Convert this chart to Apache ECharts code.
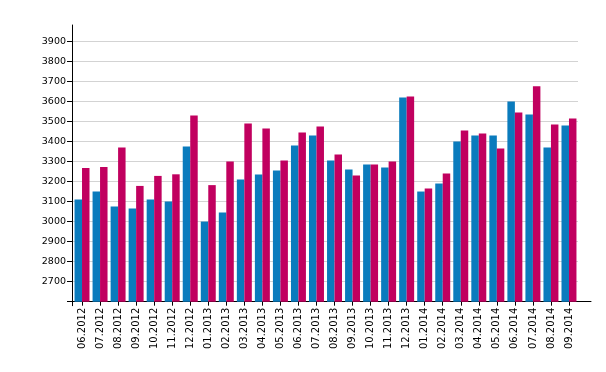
<!DOCTYPE html>
<html><head><meta charset="utf-8">
<script src="https://cdn.jsdelivr.net/npm/echarts@6/dist/echarts.min.js"></script>
<style>html,body{margin:0;padding:0;background:#fff}#c{width:606px;height:372px}</style>
</head><body><div id="c"></div>
<script>
var categories = ['06.2012','07.2012','08.2012','09.2012','10.2012','11.2012','12.2012','01.2013','02.2013','03.2013','04.2013','05.2013','06.2013','07.2013','08.2013','09.2013','10.2013','11.2013','12.2013','01.2014','02.2014','03.2014','04.2014','05.2014','06.2014','07.2014','08.2014','09.2014'];
var seriesBlue = [3110,3150,3075,3065,3110,3100,3375,3000,3045,3210,3235,3255,3380,3430,3305,3260,3285,3270,3620,3150,3190,3400,3430,3430,3600,3535,3370,3480];
var seriesPink = [3268,3272,3370,3178,3228,3236,3530,3182,3300,3490,3465,3305,3445,3475,3335,3230,3285,3300,3625,3165,3240,3455,3440,3365,3545,3675,3485,3515];
var yTicks = [2600,2700,2800,2900,3000,3100,3200,3300,3400,3500,3600,3700,3800,3900];
var yLabels = [2700,2800,2900,3000,3100,3200,3300,3400,3500,3600,3700,3800,3900];

var font = 'DejaVu Sans';
var chart = echarts.init(document.getElementById('c'), null, {renderer:'canvas'});
chart.setOption({
  animation: false,
  backgroundColor: '#fff',
  grid: [
    {left: 73, right: 28, top: 41.3, bottom: 70.3, containLabel: false},
    {left: 72, right: 15, top: 25, bottom: 66.3, containLabel: false}
  ],
  xAxis: [
    {type: 'category', gridIndex: 0, data: categories,
     axisLine: {show: false},
     axisTick: {show: true, alignWithLabel: true, length: 4, lineStyle: {color: '#000'}},
     axisLabel: {rotate: 90, margin: 6, color: '#000', fontFamily: font, fontSize: 10, interval: 0},
     splitLine: {show: false}},
    {type: 'value', gridIndex: 1, min: 0, max: 1,
     axisLine: {show: true, onZero: true, lineStyle: {color: '#000', width: 1}},
     axisTick: {show: false}, axisLabel: {show: false}, splitLine: {show: false}}
  ],
  yAxis: [
    {type: 'value', gridIndex: 0, min: 2600, max: 3900, interval: 100,
     axisLine: {show: false},
     axisTick: {show: true, length: 6, customValues: yTicks, lineStyle: {color: '#000'}},
     axisLabel: {customValues: yLabels, margin: 7, color: '#000', fontFamily: font, fontSize: 9.5,
                 formatter: function (v) { return String(v); }},
     splitLine: {show: true, lineStyle: {color: '#d3d3d3', width: 1}}},
    {type: 'value', gridIndex: 1, min: -4, max: 276.7,
     axisLine: {show: true, onZero: true, lineStyle: {color: '#000', width: 1}},
     axisTick: {show: false}, axisLabel: {show: false}, splitLine: {show: false}}
  ],
  series: [
    {type: 'bar', xAxisIndex: 0, yAxisIndex: 0, data: seriesBlue, itemStyle: {color: '#0a7bbd'}, barGap: '0%', barCategoryGap: '17%'},
    {type: 'bar', xAxisIndex: 0, yAxisIndex: 0, data: seriesPink, itemStyle: {color: '#c1005f'}}
  ]
});
</script></body></html>
